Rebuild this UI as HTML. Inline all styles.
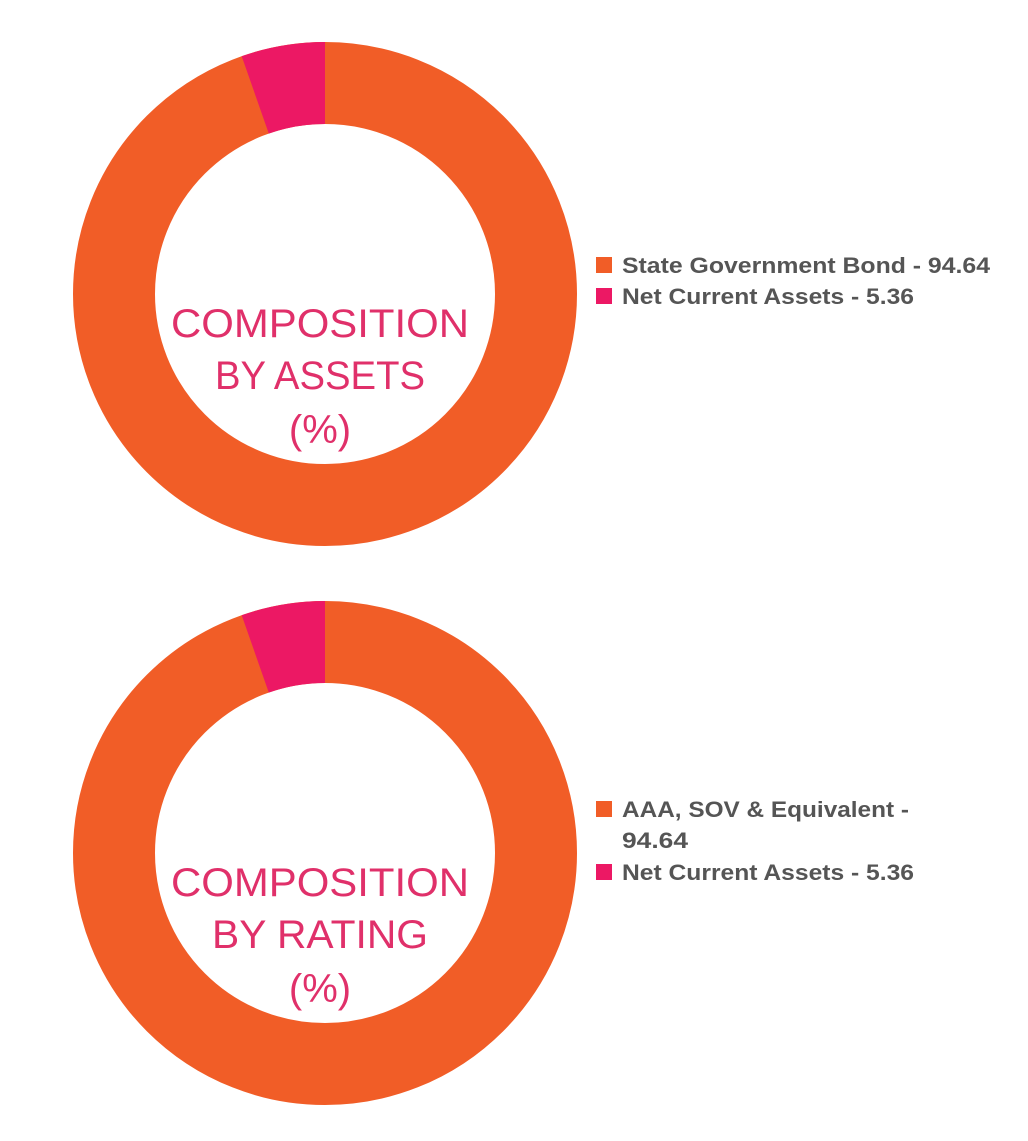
<!DOCTYPE html>
<html><head><meta charset="utf-8"><style>
html,body{margin:0;padding:0;background:#fff;}
svg{display:block;}
</style></head><body>
<svg width="1028" height="1141" viewBox="0 0 1028 1141" xmlns="http://www.w3.org/2000/svg">
<g font-family="Liberation Sans, sans-serif">
<!-- Donut 1 -->
<circle cx="325" cy="294" r="211" fill="none" stroke="#f15d27" stroke-width="82"/>
<path d="M325 42 A252 252 0 0 0 241.7 56.2 L268.8 133.6 A170 170 0 0 1 325 124 Z" fill="#ec1864"/>
<g fill="#e0306a" font-size="40" text-anchor="middle">
<text x="320" y="337" textLength="298" lengthAdjust="spacingAndGlyphs">COMPOSITION</text>
<text x="320" y="389" textLength="210" lengthAdjust="spacingAndGlyphs">BY ASSETS</text>
<text x="320" y="443">(%)</text>
</g>
<rect x="596" y="257" width="16" height="16" fill="#f15d27"/>
<rect x="596" y="288" width="16" height="16" fill="#ec1864"/>
<g fill="#555" font-size="22" font-weight="bold">
<text x="622" y="273" textLength="368" lengthAdjust="spacingAndGlyphs">State Government Bond - 94.64</text>
<text x="622" y="304" textLength="292" lengthAdjust="spacingAndGlyphs">Net Current Assets - 5.36</text>
</g>
<!-- Donut 2 -->
<circle cx="325" cy="853" r="211" fill="none" stroke="#f15d27" stroke-width="82"/>
<path d="M325 601 A252 252 0 0 0 241.7 615.2 L268.8 692.6 A170 170 0 0 1 325 683 Z" fill="#ec1864"/>
<g fill="#e0306a" font-size="40" text-anchor="middle">
<text x="320" y="896" textLength="298" lengthAdjust="spacingAndGlyphs">COMPOSITION</text>
<text x="320" y="948" textLength="216" lengthAdjust="spacingAndGlyphs">BY RATING</text>
<text x="320" y="1002">(%)</text>
</g>
<rect x="596" y="801" width="16" height="16" fill="#f15d27"/>
<rect x="596" y="864" width="16" height="16" fill="#ec1864"/>
<g fill="#555" font-size="22" font-weight="bold">
<text x="622" y="817" textLength="287" lengthAdjust="spacingAndGlyphs">AAA, SOV &amp; Equivalent -</text>
<text x="622" y="848" textLength="66" lengthAdjust="spacingAndGlyphs">94.64</text>
<text x="622" y="880" textLength="292" lengthAdjust="spacingAndGlyphs">Net Current Assets - 5.36</text>
</g>
</g>
</svg>
</body></html>
